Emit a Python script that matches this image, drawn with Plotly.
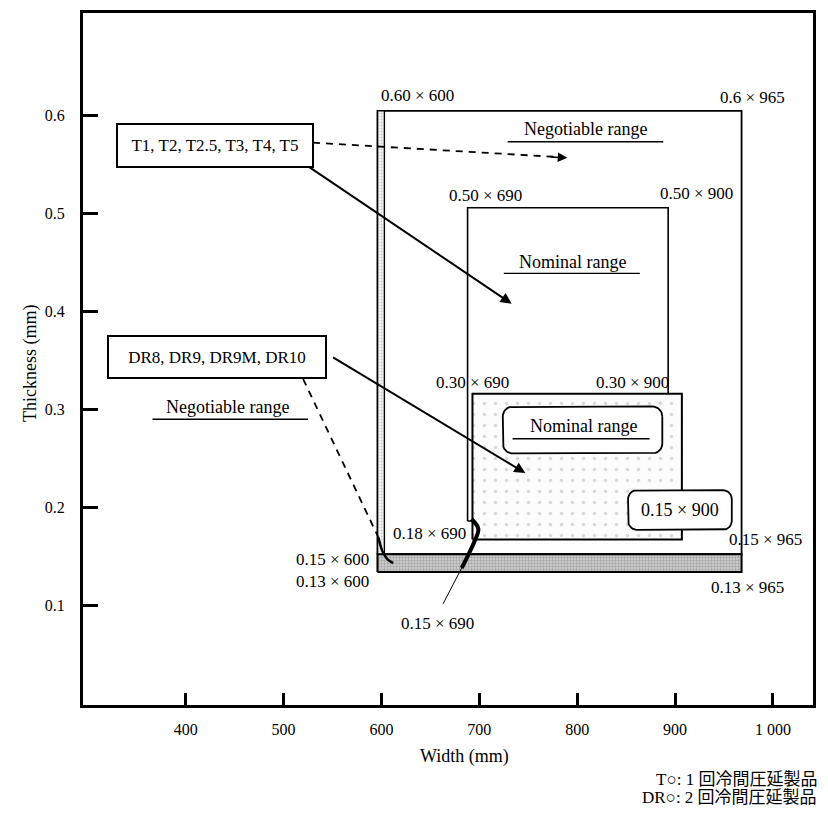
import numpy as np
import plotly.graph_objects as go

# ---------------- data ----------------
width_ticks = [400, 500, 600, 700, 800, 900, 1000]
width_ticktext = ["400", "500", "600", "700", "800", "900", "1 000"]
thick_ticks = [0.1, 0.2, 0.3, 0.4, 0.5, 0.6]
thick_ticktext = ["0.1", "0.2", "0.3", "0.4", "0.5", "0.6"]

# T (single reduced) negotiable range
t_negotiable_width = [596, 968]
t_negotiable_thick = [0.152, 0.605]
# T nominal range
t_nominal_width = [688, 893]
t_nominal_thick = [0.186, 0.506]
# DR (double reduced) nominal range (shaded)
dr_nominal_width = [693, 907]
dr_nominal_thick = [0.167, 0.316]
# DR negotiable range: bottom strip and left edge strip
dr_strip_width = [596, 968]
dr_strip_thick = [0.134, 0.152]
dr_edge_width = [596, 603]
dr_edge_thick = [0.134, 0.605]
# chamfer curve at 0.18 x 690 -> 0.15 x 690
corner_curve_width = [692, 699, 695, 689, 682]
corner_curve_thick = [0.188, 0.178, 0.165, 0.152, 0.138]

corner_labels = ["0.60 × 600", "0.6 × 965", "0.50 × 690", "0.50 × 900",
                 "0.30 × 690", "0.30 × 900", "0.18 × 690", "0.15 × 600",
                 "0.13 × 600", "0.15 × 690", "0.15 × 965", "0.13 × 965"]
corner_label_width = [637, 979, 706, 922, 693, 857, 649, 550, 550, 657, 992, 974]
corner_label_thick = [0.621, 0.619, 0.519, 0.521, 0.328, 0.328, 0.173, 0.147,
                      0.124, 0.081, 0.167, 0.118]

SERIF = "Liberation Serif, Times New Roman, serif"
FS = 17

X_RANGE = [295, 1041]
Y_RANGE = [-0.002, 0.705]
PX_X = 1 / 0.978   # data units per px (x)
PX_Y = 1 / 983.0   # data units per px (y)

# the page body adds an 8px offset; compensate in figure size / margins
W, H = 812, 812


def rect_xy(xs, ys):
    return ([xs[0], xs[1], xs[1], xs[0], xs[0]],
            [ys[0], ys[0], ys[1], ys[1], ys[0]])


def rounded_xy(x0, x1, y0, y1, r_px=9):
    rx, ry = r_px * PX_X, r_px * PX_Y
    pts_x, pts_y = [], []
    corners = [(x1 - rx, y1 - ry, 0), (x0 + rx, y1 - ry, 90),
               (x0 + rx, y0 + ry, 180), (x1 - rx, y0 + ry, 270)]
    for cx, cy, a0 in corners:
        t = np.radians(np.linspace(a0, a0 + 90, 10))
        pts_x += list(cx + rx * np.cos(t))
        pts_y += list(cy + ry * np.sin(t))
    pts_x.append(pts_x[0])
    pts_y.append(pts_y[0])
    return pts_x, pts_y


fig = go.Figure()


def add_line(xs, ys, width=1.5, dash=None, fill=None, fillcolor=None,
             fillpattern=None, color="black", shape="linear"):
    kw = dict(x=xs, y=ys, mode="lines", hoverinfo="skip", showlegend=False,
              line=dict(color=color, width=width, dash=dash, shape=shape))
    if fill:
        kw["fill"] = fill
        if fillcolor:
            kw["fillcolor"] = fillcolor
        if fillpattern:
            kw["fillpattern"] = fillpattern
    fig.add_trace(go.Scatter(**kw))


# T negotiable big box
bx, by = rect_xy(t_negotiable_width, t_negotiable_thick)
add_line(bx, by, width=1.8)
# DR negotiable left edge strip
ex, ey = rect_xy(dr_edge_width, dr_edge_thick)
add_line(ex, ey, width=1.4, fill="toself", fillcolor="#f2f2f2",
         fillpattern=dict(shape=".", fgcolor="#999", bgcolor="#f6f6f6", size=3, solidity=0.3))
# DR negotiable bottom strip
sx, sy = rect_xy(dr_strip_width, dr_strip_thick)
add_line(sx, sy, width=2, fill="toself", fillcolor="#c4c4c4",
         fillpattern=dict(shape=".", fgcolor="#777", bgcolor="#d4d4d4", size=3, solidity=0.5))
# T nominal box
nx, ny = rect_xy(t_nominal_width, t_nominal_thick)
add_line(nx, ny, width=1.6)
# DR nominal shaded box
dx, dy = rect_xy(dr_nominal_width, dr_nominal_thick)
add_line(dx, dy, width=2, fill="toself", fillcolor="white",
         fillpattern=dict(shape=".", fgcolor="#b5b5b5", bgcolor="#fcfcfc", size=11, solidity=0.08))
# chamfer curve
add_line(corner_curve_width, corner_curve_thick, width=4, shape="spline")

# rounded boxes
rx_, ry_ = rounded_xy(724, 887, 0.255, 0.303, 10)
add_line(rx_, ry_, width=1.8, fill="toself", fillcolor="white")
rx2, ry2 = rounded_xy(852, 958, 0.177, 0.2175, 9)
add_line(rx2, ry2, width=1.8, fill="toself", fillcolor="white")

# underlines
add_line([729, 888], [0.5735, 0.5735], width=1.4)
add_line([725, 864], [0.439, 0.439], width=1.4)
add_line([734, 874], [0.270, 0.270], width=1.4)
add_line([366, 525], [0.290, 0.290], width=1.4)

# dashed leaders
add_line([530, 778], [0.5725, 0.558], width=1.8, dash="7px,6px")
add_line([520, 597], [0.331, 0.169], width=1.8, dash="7px,6px")
add_line([597, 601, 606, 612], [0.169, 0.155, 0.147, 0.143], width=2.4, shape="spline")
# thin pointer for 0.15 x 690
add_line([663, 682], [0.1015, 0.138], width=1)

annotations = []
# arrows
annotations.append(dict(x=790, y=0.557, ax=772, ay=0.558, xref="x", yref="y",
                        axref="x", ayref="y", text="", showarrow=True,
                        arrowhead=2, arrowsize=1.2, arrowwidth=1.6, arrowcolor="black"))
annotations.append(dict(x=733, y=0.408, ax=524, ay=0.549, xref="x", yref="y",
                        axref="x", ayref="y", text="", showarrow=True,
                        arrowhead=2, arrowsize=1.1, arrowwidth=2, arrowcolor="black"))
annotations.append(dict(x=747, y=0.235, ax=549, ay=0.354, xref="x", yref="y",
                        axref="x", ayref="y", text="", showarrow=True,
                        arrowhead=2, arrowsize=1.1, arrowwidth=2, arrowcolor="black"))

font = dict(family=SERIF, size=FS, color="black")
# label boxes
annotations.append(dict(x=429.5, y=0.570, xref="x", yref="y", text="T1, T2, T2.5, T3, T4, T5",
                        showarrow=False, font=font, bgcolor="white", bordercolor="black",
                        borderwidth=2, borderpad=2, width=190, height=37))
annotations.append(dict(x=431.5, y=0.354, xref="x", yref="y", text="DR8, DR9, DR9M, DR10",
                        showarrow=False, font=font, bgcolor="white", bordercolor="black",
                        borderwidth=2, borderpad=2, width=212, height=36))
# range labels
big = dict(family=SERIF, size=18, color="black")
annotations.append(dict(x=808, y=0.586, xref="x", yref="y", text="Negotiable range",
                        showarrow=False, font=big))
annotations.append(dict(x=795, y=0.451, xref="x", yref="y", text="Nominal range",
                        showarrow=False, font=big))
annotations.append(dict(x=806, y=0.283, xref="x", yref="y", text="Nominal range",
                        showarrow=False, font=big))
annotations.append(dict(x=443, y=0.302, xref="x", yref="y", text="Negotiable range",
                        showarrow=False, font=big))
annotations.append(dict(x=905, y=0.197, xref="x", yref="y", text="0.15 × 900",
                        showarrow=False, font=big))
# corner labels
for t, xv, yv in zip(corner_labels, corner_label_width, corner_label_thick):
    annotations.append(dict(x=xv, y=yv, xref="x", yref="y", text=t, showarrow=False,
                            font=dict(family=SERIF, size=FS, color="black")))

# axis titles and footnotes
annotations.append(dict(x=-0.089, y=0.4935, xref="paper", yref="paper", text="Thickness (mm)",
                        textangle=-90, showarrow=False, font=big))
annotations.append(dict(x=0.523, y=-0.092, xref="paper", yref="paper", text="Width (mm)",
                        showarrow=False, font=big))
annotations.append(dict(x=1.0085, y=-0.1237, xref="paper", yref="paper",
                        text="T○: 1 回冷間圧延製品", xanchor="right", showarrow=False,
                        font=dict(family="Liberation Serif, Noto Sans CJK JP", size=17, color="black")))
annotations.append(dict(x=1.0085, y=-0.151, xref="paper", yref="paper",
                        text="DR○: 2 回冷間圧延製品", xanchor="right", showarrow=False,
                        font=dict(family="Liberation Serif, Noto Sans CJK JP", size=17, color="black")))

fig.update_layout(
    width=W, height=H,
    margin=dict(l=75, r=7, t=2, b=115),
    paper_bgcolor="white", plot_bgcolor="white",
    annotations=annotations,
    font=dict(family=SERIF, size=16, color="black"),
    xaxis=dict(range=X_RANGE, tickvals=width_ticks, ticktext=width_ticktext,
               ticks="inside", ticklen=12, tickwidth=3, tickcolor="black",
               showline=True, linewidth=3, linecolor="black", mirror=True,
               showgrid=False, zeroline=False, ticklabelstandoff=8,
               tickfont=dict(family=SERIF, size=16)),
    yaxis=dict(range=Y_RANGE, tickvals=thick_ticks, ticktext=thick_ticktext,
               ticks="inside", ticklen=15, tickwidth=3, tickcolor="black",
               showline=True, linewidth=3, linecolor="black", mirror=True,
               showgrid=False, zeroline=False, ticklabelstandoff=12,
               tickfont=dict(family=SERIF, size=16)),
)

fig.write_html("out.html")
